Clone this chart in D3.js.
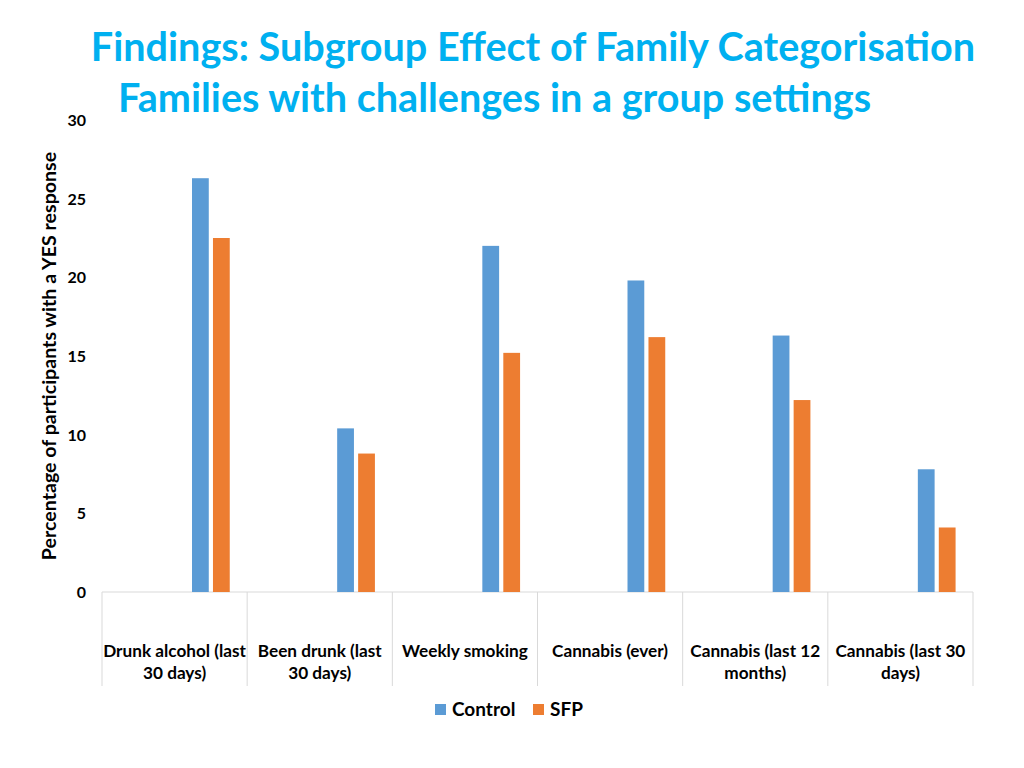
<!DOCTYPE html>
<html>
<head>
<meta charset="utf-8">
<script src="https://cdn.jsdelivr.net/npm/d3@7"></script>
<style>
  body { margin: 0; background: #fff; }
  text { font-family: Lato, "Open Sans", sans-serif; font-weight: bold; }
</style>
</head>
<body>
<div id="chart"></div>
<script>
/* Data */
const categories = [
  "Drunk alcohol (last 30 days)",
  "Been drunk (last 30 days)",
  "Weekly smoking",
  "Cannabis (ever)",
  "Cannabis (last 12 months)",
  "Cannabis (last 30 days)"
]
const seriesNames = ["Control", "SFP"]
const controlValues = [26.3, 10.4, 22.0, 19.8, 16.3, 7.8]
const sfpValues = [22.5, 8.8, 15.2, 16.2, 12.2, 4.1]
const yTicks = [0, 5, 10, 15, 20, 25, 30]
const colors = ["#5B9BD5", "#ED7D31"]
/* End Data */

const width = 1024
const height = 768
const margin = {top: 120, right: 51, bottom: 176, left: 102}

const svg = d3.select("#chart").append("svg")
    .attr("width", width)
    .attr("height", height)

// title
const titleColor = "#00B0F0"
svg.append("text")
    .attr("x", 533)
    .attr("y", 61)
    .attr("text-anchor", "middle")
    .attr("fill", titleColor)
    .attr("font-size", 39.6)
    .text("Findings: Subgroup Effect of Family Categorisation")

svg.append("text")
    .attr("x", 118)
    .attr("y", 112)
    .attr("fill", titleColor)
    .attr("font-size", 39.6)
    .text("Families with challenges in a group settings")

const x = d3.scaleBand()
    .domain(categories)
    .range([margin.left, width - margin.right])

const y = d3.scaleLinear()
    .domain([0, 30])
    .range([height - margin.bottom, margin.top])

// bars sit in the right part of each band, like the original
const xInner = d3.scaleBand()
    .domain(seriesNames)
    .range([x.bandwidth() * 0.62, x.bandwidth() * 0.88])
    .paddingInner(0.2)

// y ticks (no axis line)
svg.append("g")
    .selectAll("text")
    .data(yTicks)
    .join("text")
    .attr("x", 86)
    .attr("y", d => y(d) + 6)
    .attr("text-anchor", "end")
    .attr("font-size", 16)
    .attr("fill", "#000")
    .text(d => d)

svg.append("text")
    .attr("transform", `translate(56,${y(15)}) rotate(-90)`)
    .attr("text-anchor", "middle")
    .attr("font-size", 19.6)
    .attr("fill", "#000")
    .text("Percentage of participants with a YES response")

// baseline and category separators
const grid = "#d9d9d9"
svg.append("line")
    .attr("x1", margin.left)
    .attr("x2", width - margin.right)
    .attr("y1", y(0))
    .attr("y2", y(0))
    .attr("stroke", grid)

const boundaries = categories.map(c => x(c)).concat([x(categories[categories.length - 1]) + x.bandwidth()])
svg.append("g")
    .selectAll("line")
    .data(boundaries)
    .join("line")
    .attr("x1", d => d)
    .attr("x2", d => d)
    .attr("y1", y(0))
    .attr("y2", 686)
    .attr("stroke", grid)

// bars
const rows = categories.map((c, i) => ({cat: c, values: [controlValues[i], sfpValues[i]]}))

svg.append("g")
    .selectAll("g")
    .data(rows)
    .join("g")
    .attr("transform", d => `translate(${x(d.cat)},0)`)
    .selectAll("rect")
    .data(d => d.values.map((v, j) => ({name: seriesNames[j], value: v, color: colors[j]})))
    .join("rect")
    .attr("x", d => xInner(d.name))
    .attr("width", xInner.bandwidth())
    .attr("y", d => y(d.value))
    .attr("height", d => y(0) - y(d.value))
    .attr("fill", d => d.color)

// category labels, wrapped to the band width
const labels = svg.append("g")
    .selectAll("text")
    .data(categories)
    .join("text")
    .attr("x", d => x(d) + x.bandwidth() / 2)
    .attr("y", 657)
    .attr("text-anchor", "middle")
    .attr("font-size", 17.2)
    .attr("fill", "#000")

labels.each(function(d) {
  const t = d3.select(this)
  const words = d.split(" ")
  let line = []
  let tspan = t.append("tspan").attr("x", x(d) + x.bandwidth() / 2).attr("dy", 0)
  words.forEach(w => {
    line.push(w)
    tspan.text(line.join(" "))
    if (tspan.node().getComputedTextLength() > x.bandwidth() && line.length > 1) {
      line.pop()
      tspan.text(line.join(" "))
      line = [w]
      tspan = t.append("tspan").attr("x", x(d) + x.bandwidth() / 2).attr("dy", 22).text(w)
    }
  })
})

// legend
const legend = svg.append("g")
    .selectAll("g")
    .data(seriesNames)
    .join("g")
    .attr("transform", (d, i) => `translate(${435 + i * 98},704)`)

legend.append("rect")
    .attr("width", 11)
    .attr("height", 11)
    .attr("fill", (d, i) => colors[i])

legend.append("text")
    .attr("x", 17)
    .attr("y", 12)
    .attr("font-size", 19)
    .attr("fill", "#000")
    .text(d => d)
</script>
</body>
</html>
